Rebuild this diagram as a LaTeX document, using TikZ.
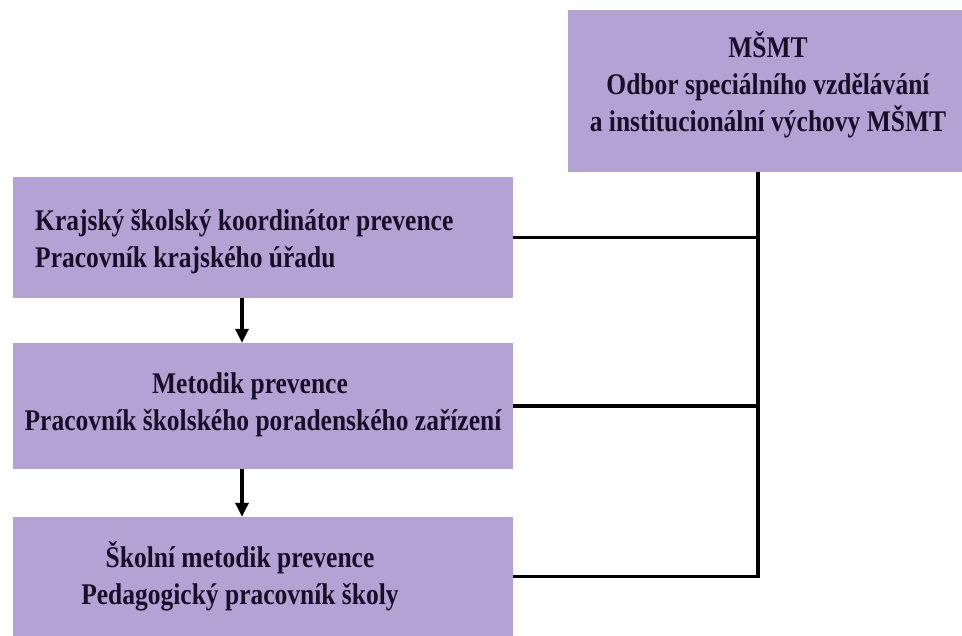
\documentclass[tikz,border=0pt]{standalone}
\usepackage{fontspec}
\setmainfont[FakeStretch=0.85]{Liberation Serif}
\usetikzlibrary{arrows.meta}
\definecolor{boxlila}{RGB}{180,162,213}
\definecolor{boxtext}{RGB}{24,14,40}
\begin{document}
\begin{tikzpicture}[x=1pt,y=-1pt,
    box/.style={fill=boxlila, inner sep=0pt, minimum width=500pt, minimum height=#1},
    txt/.style={text=boxtext, inner sep=0pt,
      font=\fontsize{30}{37}\selectfont\bfseries},
    wire/.style={line width=3.2pt},
    arr/.style={wire, -{Triangle[width=13pt,length=14pt]}}]
  \useasboundingbox[fill=white] (0,0) rectangle (962,636);
  % boxes
  \node[box=162pt, minimum width=394pt] (msmt) at (765,91) {};
  \node[box=121pt] (kraj) at (263,237.5) {};
  \node[box=126pt] (metodik) at (263,406) {};
  \node[box=119pt] (skolni) at (263,576.5) {};
  % texts
  \node[txt, align=center] (msmt-t) at (768,85) {MŠMT\\
    Odbor speciálního vzdělávání\\ a institucionální výchovy MŠMT};
  \node[txt, align=left, anchor=west] (kraj-t) at (35,242)
    {Krajský školský koordinátor prevence\\ Pracovník krajského úřadu};
  \node[txt, align=center] (metodik-t) at (263,405)
    {Metodik prevence\hspace*{26pt}\\ Pracovník školského poradenského zařízení};
  \node[txt, align=center] (skolni-t) at (240,576)
    {Školní metodik prevence\\ Pedagogický pracovník školy};
  % connectors
  \coordinate (bus) at (758,0);
  \coordinate (down) at (242,0);
  \draw[wire] (msmt.south -| bus) |- (skolni.east);
  \draw[wire] (kraj.east) -- (kraj.east -| bus);
  \draw[wire] (metodik.east) -- (metodik.east -| bus);
  \draw[arr] (kraj.south -| down) -- (metodik.north -| down);
  \draw[arr] (metodik.south -| down) -- (skolni.north -| down);
\end{tikzpicture}
\end{document}
